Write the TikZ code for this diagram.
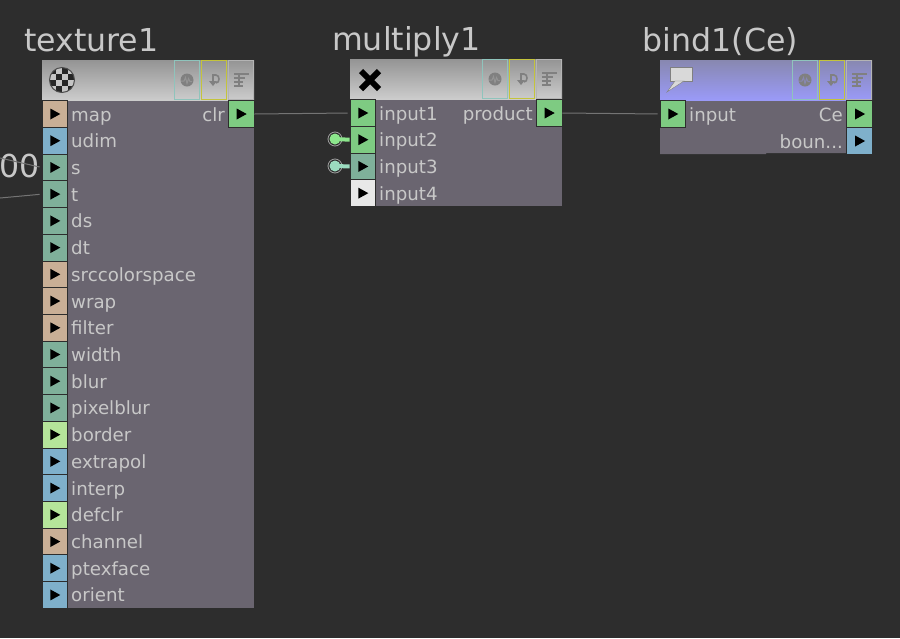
\documentclass[tikz,border=0pt]{standalone}
\usepackage{fontspec}
\setmainfont{DejaVu Sans}
\usetikzlibrary{calc}
\definecolor{BackClr}{HTML}{2D2D2D}
\definecolor{BodyClr}{HTML}{6A6570}
\definecolor{TextClr}{HTML}{C8C8C8}
\definecolor{WireClr}{HTML}{747474}
\definecolor{GreenClr}{HTML}{7ECB82}
\definecolor{TanClr}{HTML}{C9AF96}
\definecolor{BlueClr}{HTML}{7FB0CB}
\definecolor{TealClr}{HTML}{7FB09A}
\definecolor{LimeClr}{HTML}{B5E59A}
\definecolor{PaleClr}{HTML}{E8E8E8}
\definecolor{LinkClr}{HTML}{8CE68C}
\definecolor{StubClr}{HTML}{9CDCC0}
\definecolor{GlyphClr}{HTML}{808080}
\definecolor{EdgeA}{HTML}{8FC4BC}
\definecolor{EdgeB}{HTML}{C4C43C}
\definecolor{EdgeC}{HTML}{B4B4B4}
\tikzset{
  opname/.style={text=TextClr,anchor=base west,inner sep=0pt,font=\fontsize{31.6}{33}\selectfont},
  portname/.style={text=TextClr,inner sep=0pt,font=\fontsize{18.2}{20}\selectfont},
  port/.style={fill=#1,draw=BackClr,line width=.8pt,inner sep=0pt,minimum width=25.6pt,minimum height=26.7pt,
    path picture={\fill[black] (path picture bounding box.center) ++(-4.5,-5.5) -- ++(10,5.5) -- ++(-10,5.5) -- cycle;}},
  wire/.style={draw=WireClr,line width=1pt,shorten >=2pt},
  button/.style={draw=#1,line width=.8pt,inner sep=0pt,minimum width=25pt,minimum height=39pt},
  glyph/.style={draw=GlyphClr,line width=1.2pt},
  stub/.style={circle,draw=TextClr!80!black,line width=.8pt,fill=BackClr,inner sep=0pt,minimum size=14pt,
    path picture={\fill[#1] (path picture bounding box.center) circle (5.5pt);}}
}
\begin{document}
\begin{tikzpicture}[x=1pt,y=-1pt]
\useasboundingbox[fill=BackClr] (0,0) rectangle (900,638);

% names
\node[opname] (texname) at (24,51.5) {texture1};
\node[opname] (mulname) at (332,50.5) {multiply1};
\node[opname] (bndname) at (642,51.5) {bind1\hspace{.02em}(Ce)};
\node[opname,anchor=base east] (oldname) at (40,177) {00};

% bodies
\fill[BodyClr] (42,100) rectangle (254,608);
\fill[BodyClr] (350,99) rectangle (562,206);
\fill[BodyClr] (660,100) rectangle (847,153) (660,153) rectangle (766,154);

% headers with buttons
\foreach \nam/\hx/\hy/\topc/\botc in {tex/42/60/949494/CCCCCC,mul/350/59/949494/CCCCCC,bnd/660/60/8888B0/9A9AF8}{
  \definecolor{HeadTop}{HTML}{\topc}
  \definecolor{HeadBot}{HTML}{\botc}
  \shade[top color=HeadTop,bottom color=HeadBot] (\hx,\hy) rectangle ++(212,40);
  \node[button=EdgeA] (\nam a) at (\hx+145,\hy+20) {};
  \node[button=EdgeB] (\nam b) at (\hx+172,\hy+20) {};
  \node[button=EdgeC] (\nam c) at (\hx+199,\hy+20) {};
  \fill[GlyphClr] (\nam a) circle (6.5pt);
  \draw[HeadTop,line width=1pt] ($(\nam a)+(-6,1)$) -- ++(3,0) -- ++(1.5,-3.5) -- ++(1.5,6) -- ++(1.5,-5) -- ++(1.5,3) -- ++(2,0);
  \draw[glyph,line width=1.6pt] ($(\nam b)+(-1,2)$) -- ($(\nam b)+(-1,-5)$) -- ($(\nam b)+(2,-5)$)
    .. controls ($(\nam b)+(6,-5)$) and ($(\nam b)+(6,3)$) .. ($(\nam b)+(2,3)$);
  \fill[GlyphClr] ($(\nam b)+(-5,1)$) -- ++(8,0) -- ++(-4,5) -- cycle;
  \draw[glyph] ($(\nam c)+(-7,-6)$) -- ++(15,0) ($(\nam c)+(-7,-2)$) -- ++(11,0) ($(\nam c)+(-7,2)$) -- ++(9,0) ($(\nam c)+(-7,6)$) -- ++(9,0);
  \draw[glyph] ($(\nam c)+(-2,-6)$) -- ++(0,12);
}

% header pictures
\begin{scope}
  \clip (62,80) circle (12.5pt);
  \fill[PaleClr!85!black] (49,67) rectangle (75,93);
  \foreach \i in {0,1,2,3}{\foreach \j in {0,1,2,3}{
    \pgfmathtruncatemacro{\odd}{mod(\i+\j,2)}
    \ifnum\odd=0 \fill[black!85] (49.5+\i*6.3,67.5+\j*6.3) rectangle ++(6.3,6.3);\fi
  }}
\end{scope}
\draw[black!70,line width=1pt] (62,80) circle (12.5pt);
\draw[black,line width=6pt] (361,71) -- (379,89) (379,71) -- (361,89);
\fill[gray!30!white,draw=GlyphClr] (670,67) rectangle (692,81);
\fill[gray!30!white,draw=GlyphClr] (675,81) -- (667,92) -- (684,81) -- cycle;

% free wire ends
\coordinate (oldone) at (0,158);
\coordinate (oldtwo) at (0,198);

% texture1 ports
\foreach \i/\lab/\clr in {0/map/TanClr,1/udim/BlueClr,2/s/TealClr,3/t/TealClr,4/ds/TealClr,5/dt/TealClr,
  6/srccolorspace/TanClr,7/wrap/TanClr,8/filter/TanClr,9/width/TealClr,10/blur/TealClr,11/pixelblur/TealClr,
  12/border/LimeClr,13/extrapol/BlueClr,14/interp/BlueClr,15/defclr/LimeClr,16/channel/TanClr,17/ptexface/BlueClr,18/orient/BlueClr}{
  \node[port=\clr] (tex\i) at (54.8,114+\i*26.72) {};
  \node[portname,anchor=base west] (texlab\i) at (71,121+\i*26.72) {\lab};
}
\node[port=GreenClr] (texclr) at (241.2,114) {};
\node[portname,anchor=base east] (texclrlab) at (225,121) {clr};

% multiply1 ports
\foreach \i/\lab/\clr in {1/input1/GreenClr,2/input2/GreenClr,3/input3/TealClr,4/input4/PaleClr}{
  \node[port=\clr] (mul\i) at (362.8,86.28+\i*26.72) {};
  \node[portname,anchor=base west] (mullab\i) at (379,93.28+\i*26.72) {\lab};
}
\node[port=GreenClr] (mulout) at (549.2,113) {};
\node[portname,anchor=base east] (muloutlab) at (533,120) {product};

% bind1 ports
\node[port=GreenClr] (bndin) at (672.8,114) {};
\node[portname,anchor=base west] (bndinlab) at (689,121) {input};
\node[port=GreenClr] (bndce) at (859.6,114) {};
\node[portname,anchor=base east] (bndcelab) at (843,121) {Ce};
\node[port=BlueClr] (bndbn) at (859.6,141) {};
\node[portname,anchor=base east] (bndbnlab) at (843,148) {boun...};

% stubs
\node[stub=LinkClr] (stubtwo) at (335,139) {};
\node[stub=StubClr] (stubthree) at (335,166) {};
\draw[LinkClr,line width=4pt,shorten <=-3pt] (stubtwo) -- (mul2.west);
\draw[StubClr,line width=4pt,shorten <=-3pt] (stubthree) -- (mul3.west);

% connectors
\draw[wire] (texclr.east) -- (mul1.west);
\draw[wire] (mulout.east) -- (bndin.west);
\draw[wire] (oldone) -- (tex2.west);
\draw[wire] (oldtwo) -- (tex3.west);

\end{tikzpicture}
\end{document}
